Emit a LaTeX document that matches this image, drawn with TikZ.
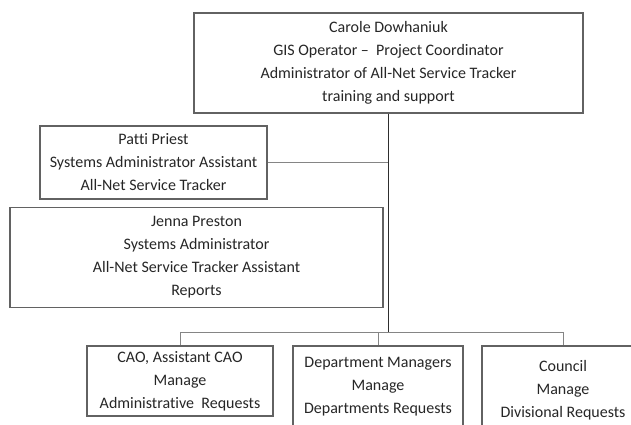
\documentclass[tikz,border=0pt]{standalone}
\usepackage{fontspec}
\setmainfont{Carlito}[Ligatures=NoCommon]
\usepackage{tikz}
\usetikzlibrary{calc}
\usepackage{xcolor}
\definecolor{boxline}{HTML}{626262}
\definecolor{linkline}{HTML}{858585}
\definecolor{spine}{HTML}{2E2E2E}
\tikzset{
  unit/.style={draw=boxline, line width=1.1pt, inner sep=0pt, align=center,
    text=black!85, font=\fontsize{16}{23}\selectfont},
  link/.style={draw=linkline, line width=1pt}
}

\begin{document}
\begin{tikzpicture}[x=1pt,y=-1pt]
\useasboundingbox (0,0) rectangle (631,425);
\clip (0,0) rectangle (631,425);
\node [unit, minimum width=389, minimum height=100] (carole) at (388.5,63)
  {Carole Dowhaniuk\\GIS Operator --\ \ Project Coordinator\\Administrator of All-Net Service Tracker\\training and support};
\node [unit, minimum width=227, minimum height=73] (patti) at (153.5,162.5)
  {Patti Priest\\Systems Administrator Assistant\\All-Net Service Tracker};
\node [unit, minimum width=373, minimum height=100] (jenna) at (196.5,257.5)
  {Jenna Preston\\Systems Administrator\\All-Net Service Tracker Assistant\\Reports};
\node [unit, minimum width=186, minimum height=70] (cao) at (180,381)
  {CAO, Assistant CAO\\Manage\\Administrative\ \ Requests};
\node [unit, minimum width=170, minimum height=82] (depmgr) at (378,387)
  {Department Managers\\Manage\\Departments Requests};
\node [unit, minimum width=162, minimum height=88] (council) at (563,390)
  {Council\\Manage\\Divisional Requests};
\coordinate (bus) at (388.5,332);
\draw [link] (cao.north) |- (council.north |- bus) -- (council.north);
\draw [link] (depmgr.north) -- (depmgr.north |- bus);
\draw [link] (patti.east) -- (patti.east -| carole.south);
\draw [spine, line width=1.3pt] (carole.south) -- (bus);
\end{tikzpicture}
\end{document}
